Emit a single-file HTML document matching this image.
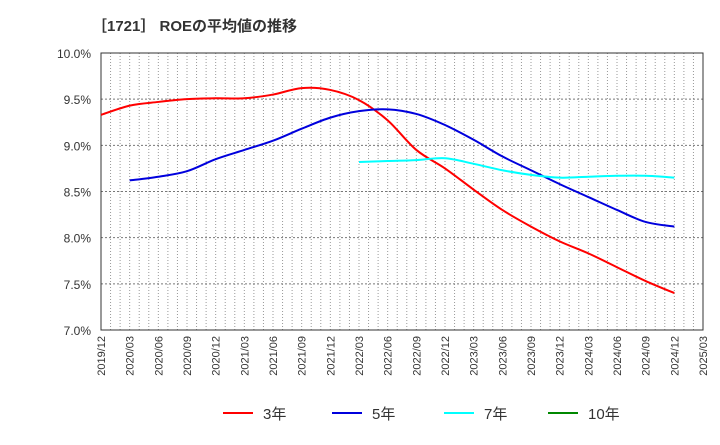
<!DOCTYPE html>
<html><head><meta charset="utf-8"><style>
body{margin:0;background:#fff;}
svg{font-family:"Liberation Sans","Noto Sans CJK JP",sans-serif;}
</style></head><body>
<svg id="chart" width="720" height="440">
<text x="92" y="31" font-size="15" font-weight="bold" fill="#333">［1721］ ROEの平均値の推移</text>
<g id="grid"></g>
<g id="axes"></g>
<g id="series"></g>
<g id="legend"></g>
</svg>
<script>
const xLabels=["2019/12","2020/03","2020/06","2020/09","2020/12","2021/03","2021/06","2021/09","2021/12","2022/03","2022/06","2022/09","2022/12","2023/03","2023/06","2023/09","2023/12","2024/03","2024/06","2024/09","2024/12","2025/03"];
const yTicks=[7.0,7.5,8.0,8.5,9.0,9.5,10.0];
const roe3=[9.33,9.43,9.47,9.50,9.51,9.51,9.55,9.62,9.60,9.49,9.27,8.95,8.75,8.52,8.30,8.12,7.96,7.83,7.68,7.53,7.40];
const roe3Start=0;
const roe5=[8.62,8.66,8.72,8.85,8.95,9.05,9.18,9.30,9.37,9.39,9.34,9.22,9.06,8.88,8.73,8.58,8.44,8.30,8.17,8.12];
const roe5Start=1;
const roe7=[8.82,8.83,8.84,8.86,8.80,8.73,8.68,8.65,8.66,8.67,8.67,8.65];
const roe7Start=9;
const roe10=[];
const roe10Start=0;

const L=101,R=703,T=53,B=330,NS="http://www.w3.org/2000/svg";
const xs=i=>L+(R-L)*i/(xLabels.length-1);
const ys=v=>B-(v-7)/3*(B-T);
function mk(tag,attrs,parent){const e=document.createElementNS(NS,tag);for(const k in attrs)e.setAttribute(k,attrs[k]);parent.appendChild(e);return e;}
const grid=document.getElementById('grid'),axes=document.getElementById('axes'),ser=document.getElementById('series'),leg=document.getElementById('legend');
for(let m=1;m<(xLabels.length-1)*3;m++){
  const x=L+(R-L)*m/((xLabels.length-1)*3);
  const ln=mk('line',{x1:x,x2:x,y1:T,y2:B,stroke:'#999','stroke-dasharray':'1,2','stroke-width':1},grid);
  
  
}
yTicks.forEach(v=>{
  const y=ys(v);
  if(v>7&&v<10){const ln=mk('line',{x1:L,x2:R,y1:y,y2:y,stroke:'#777','stroke-dasharray':'2,2'},grid);
  
  }
  const t=mk('text',{x:91,y:y+5,'text-anchor':'end','font-size':12,fill:'#333'},axes);
  t.textContent=v.toFixed(1)+'%';
  
  
});
xLabels.forEach((l,i)=>{
  const x=xs(i);
  const t=mk('text',{x:x+4,y:336,'text-anchor':'end','font-size':11,fill:'#333',transform:`rotate(-90 ${x+4} 336)`},axes);
  t.textContent=l;
  
  
});
const fr=mk('rect',{x:L,y:T,width:R-L,height:B-T,fill:'none',stroke:'#333','stroke-width':1},axes);


function path(vals,start){
  const p=vals.map((v,i)=>[xs(start+i),ys(v)]);
  if(!p.length)return '';
  let d=`M${p[0][0]},${p[0][1]}`;
  for(let i=0;i<p.length-1;i++){
    const p0=p[i-1]||p[i],p1=p[i],p2=p[i+1],p3=p[i+2]||p2;
    d+=` C${p1[0]+(p2[0]-p0[0])/6},${p1[1]+(p2[1]-p0[1])/6} ${p2[0]-(p3[0]-p1[0])/6},${p2[1]-(p3[1]-p1[1])/6} ${p2[0]},${p2[1]}`;
  }
  return d;
}
[[roe3,roe3Start,'#f00','line-3yr'],[roe5,roe5Start,'#00d','line-5yr'],[roe7,roe7Start,'#0ff','line-7yr'],[roe10,roe10Start,'#080','line-10yr']].forEach(s=>{
  if(!s[0].length)return;
  const pe=mk('path',{d:path(s[0],s[1]),fill:'none',stroke:s[2],'stroke-width':2},ser);
  
  
});
[['3年',223,'#f00'],['5年',332,'#00d'],['7年',444,'#0ff'],['10年',548,'#080']].forEach(e=>{
  const ln=mk('line',{x1:e[1],x2:e[1]+30,y1:413,y2:413,stroke:e[2],'stroke-width':2},leg);
  
  
  const t=mk('text',{x:e[1]+40,y:419,'font-size':15,fill:'#333'},leg);
  t.textContent=e[0];
  
  
});
</script>
</body></html>
